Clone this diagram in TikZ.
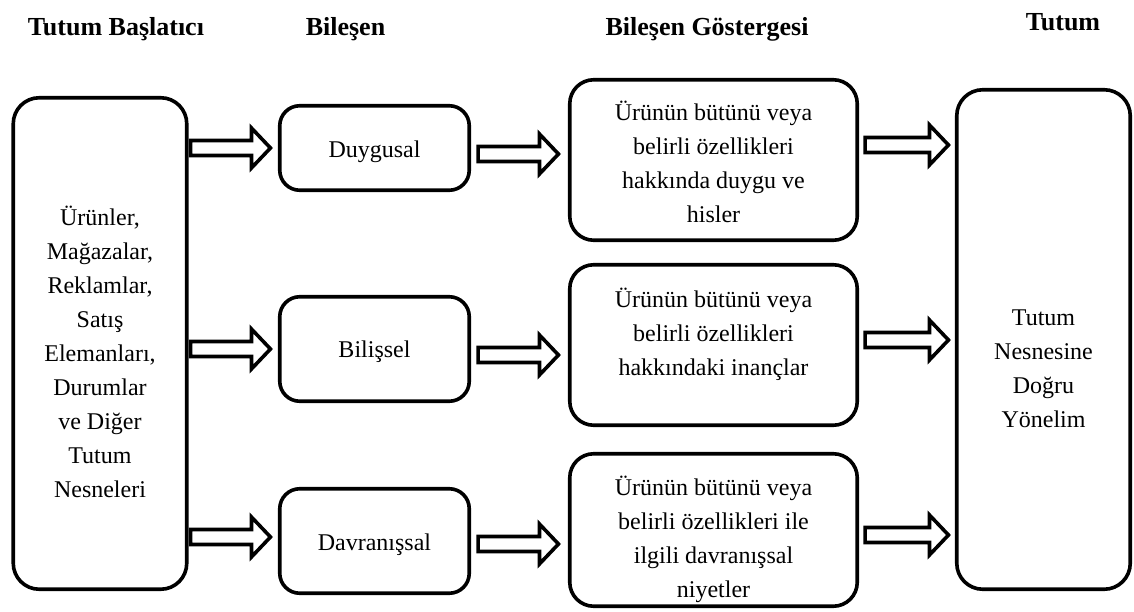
\documentclass[tikz,border=0pt]{standalone}
\usepackage{fontspec}
\setmainfont{Liberation Serif}
\usetikzlibrary{calc}
\begin{document}
\begin{tikzpicture}[x=1pt,y=-1pt,
  box/.style={draw=black, line width=3.6pt, rounded corners=#1, inner sep=0pt},
  box/.default=20pt,
  body/.style={align=center, inner sep=0pt, font=\fontsize{24}{34}\selectfont},
  head/.style={anchor=base, inner sep=0pt, font=\fontsize{26}{30}\selectfont\bfseries},
  % hollow block arrow from the start point to the tip at the target's x
  hollow/.style={draw=black, line width=3.6pt, line join=miter,
    to path={let \p1=(\tikztostart), \p2=(\tikztotarget) in
      (\x1,\y1+7.5pt) -- (\x2-19pt,\y1+7.5pt) -- (\x2-19pt,\y1+20pt) -- (\x2,\y1)
      -- (\x2-19pt,\y1-20pt) -- (\x2-19pt,\y1-7.5pt) -- (\x1,\y1-7.5pt) -- cycle}}]

\useasboundingbox (0,0) rectangle (1134,612);

% column headings
\node[head] (h1) at (116,36) {Tutum Başlatıcı};
\node[head] (h2) at (345.5,36) {Bileşen};
\node[head] (h3) at (707,36) {Bileşen Göstergesi};
\node[head] (h4) at (1063,31) {Tutum};

% attitude initiators
\node[box=26pt, minimum width=173.5pt, minimum height=491.5pt] (lb) at (100,343.5) {};
\node[body] (lbt) at ($(lb.center)+(0,8)$)
  {Ürünler,\\Mağazalar,\\Reklamlar,\\Satış\\Elemanları,\\Durumlar\\ve Diğer\\Tutum\\Nesneleri};

% components
\node[box, minimum width=189.5pt, minimum height=84.5pt] (dg) at (374.5,148) {};
\node[box, minimum width=189.5pt, minimum height=104.5pt] (bl) at (374.5,349) {};
\node[box, minimum width=189.5pt, minimum height=104.5pt] (dv) at (374.5,541) {};
\node[body] (dgt) at ($(dg.center)+(0,4)$) {Duygusal};
\node[body] (blt) at ($(bl.center)+(0,3)$) {Bilişsel};
\node[body] (dvt) at ($(dv.center)+(0,4)$) {Davranışsal};

% component indicators
\node[box=24pt, minimum width=287.5pt, minimum height=160.5pt] (g1) at (713.5,160) {};
\node[box=24pt, minimum width=287.5pt, minimum height=160.5pt] (g2) at (713.5,345) {};
\node[box=24pt, minimum width=287.5pt, minimum height=152.5pt] (g3) at (713.5,530) {};
\node[body] (g1t) at ($(g1.center)+(0,2)$)
  {Ürünün bütünü veya\\belirli özellikleri\\hakkında duygu ve\\hisler};
\node[body] (g2t) at ($(g2.center)+(0,-11)$)
  {Ürünün bütünü veya\\belirli özellikleri\\hakkındaki inançlar};
\node[body] (g3t) at ($(g3.center)+(0,9)$)
  {Ürünün bütünü veya\\belirli özellikleri ile\\ilgili davranışsal\\niyetler};

% attitude
\node[box=26pt, minimum width=173.5pt, minimum height=499.5pt] (tt) at (1043.5,339.5) {};
\node[body] (ttt) at ($(tt.center)+(0,29)$) {Tutum\\Nesnesine\\Doğru\\Yönelim};

% initiators -> components
\draw[hollow] ($(lb.east |- dg.west)+(2,0)$) to ($(dg.west)+(-7.5,0)$);
\draw[hollow] ($(lb.east |- bl.west)+(2,0)$) to ($(bl.west)+(-7.5,0)$);
\draw[hollow] ($(lb.east |- dv.west)+(2,-4)$) to ($(dv.west)+(-7.5,0)$);

% components -> indicators
\draw[hollow] ($(dg.east)+(7,6)$) to ($(g1.west)+(-9.5,0)$);
\draw[hollow] ($(bl.east)+(7,6)$) to ($(g2.west)+(-9.5,0)$);
\draw[hollow] ($(dv.east)+(7,3)$) to ($(g3.west)+(-9.5,0)$);

% indicators -> attitude
\draw[hollow] ($(g1.east)+(6,-15)$) to ($(tt.west)+(-6.5,0)$);
\draw[hollow] ($(g2.east)+(6,-5)$) to ($(tt.west)+(-6.5,0)$);
\draw[hollow] ($(g3.east)+(6,5)$) to ($(tt.west)+(-6.5,0)$);

\end{tikzpicture}
\end{document}
